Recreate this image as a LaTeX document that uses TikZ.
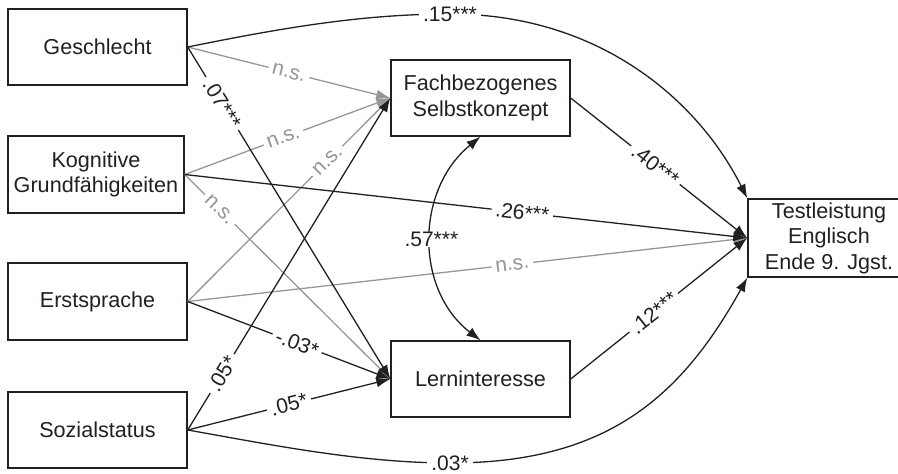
\documentclass[tikz,border=0pt]{standalone}
\usepackage{fontspec}
\setmainfont{Liberation Sans}
\usetikzlibrary{arrows.meta}
\definecolor{ink}{RGB}{35,31,32}
\definecolor{ns}{RGB}{150,150,150}
\begin{document}
\begin{tikzpicture}[x=1pt,y=-1pt,
  box/.style={draw=ink, line width=1.4pt, minimum width=179pt, minimum height=76pt,
    align=center, inner sep=0pt, font=\fontsize{21.6}{25.5}\selectfont, text=ink},
  con/.style={draw=ink, line width=1.3pt, -{Latex[length=14pt,width=10pt]}},
  nscon/.style={con, draw=ns},
  dcon/.style={draw=ink, line width=1.3pt, {Latex[length=14pt,width=10pt]}-{Latex[length=14pt,width=10pt]}},
  plain/.style={fill=white, inner xsep=4pt, inner ysep=0.5pt, font=\fontsize{21}{24}\selectfont, text=ink},
  lbl/.style={plain, sloped},
  nslbl/.style={lbl, text=ns},
]
\useasboundingbox (0,0) rectangle (898,474);

\node[box] (ges) at (97.5,47) {Geschlecht};
\node[box, minimum width=176pt, minimum height=77pt] (kog) at (96,174.5) {Kognitive\\Grundfähigkeiten};
\node[box, minimum height=77pt] (ers) at (97.5,301.5) {Erstsprache};
\node[box] (soz) at (97.5,430) {Sozialstatus};
\node[box] (fach) at (480.5,98) {Fachbezogenes\\Selbstkonzept};
\node[box] (lern) at (480.5,379) {Lerninteresse};
\node[box, minimum width=162pt, minimum height=78pt] (test) at (829,238) {Testleistung\\Englisch\\Ende 9. Jgst.};

% non-significant paths
\draw[nscon] (ges.east) -- node[nslbl,pos=0.5]{n.s.} (fach.west);
\draw[nscon] (kog.east) -- node[nslbl,pos=0.48]{n.s.} (fach.west);
\draw[nscon] (ers.east) -- node[nslbl,pos=0.69]{n.s.} (fach.west);
\draw[nscon] (kog.east) -- node[nslbl,pos=0.17]{n.s.} (lern.west);
\draw[nscon] (ers.east) -- node[nslbl,pos=0.58]{n.s.} (test.west);

% significant paths
\draw[con] (ges.east) -- node[lbl,pos=0.17]{.07***} (lern.west);
\draw[con] (ers.east) -- node[lbl,pos=0.54]{-.03*} (lern.west);
\draw[con] (soz.east) -- node[lbl,pos=0.17]{.05*} (fach.west);
\draw[con] (soz.east) -- node[lbl,pos=0.5]{.05*} (lern.west);
\draw[con] (kog.east) -- node[lbl,pos=0.6]{.26***} (test.west);
\draw[con] (fach.east) -- node[lbl,pos=0.48]{.40***} (test.west);
\draw[con] (lern.east) -- node[lbl,pos=0.47]{.12***} (test.west);

\draw[con] (ges.east) .. controls (277,29) and (360,14) .. (450,14) node[plain]{.15***}
  .. controls (600,14) and (698.5,101) .. (test.north west);
\draw[con] (soz.east) .. controls (267,444) and (360,463) .. (450,463) node[plain]{.03*}
  .. controls (605,463) and (680,399) .. (test.south west);

\draw[dcon] (fach.south) .. controls (415,190) and (415,290) .. node[plain,pos=0.5]{.57***} (lern.north);
\end{tikzpicture}
\end{document}
